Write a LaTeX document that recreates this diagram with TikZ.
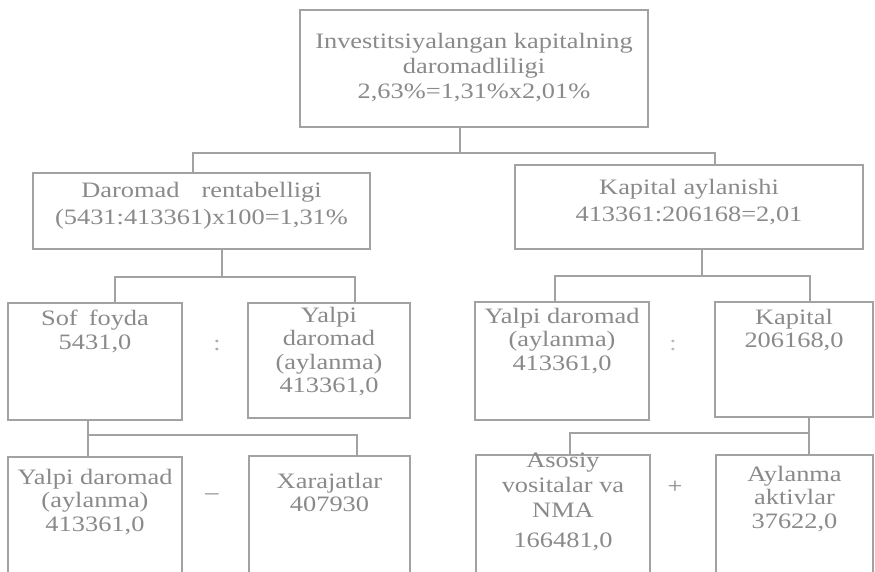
\documentclass[tikz,border=0pt]{standalone}
\usepackage{fontspec}
\setmainfont{Liberation Serif}[FakeStretch=1.2]
\definecolor{ink}{HTML}{8A8A8A}
\definecolor{rule}{HTML}{A2A2A2}
\tikzset{
  box/.style={draw=rule, line width=2.5pt, inner sep=0pt, outer sep=0pt,
    anchor=north west, fill=none},
  link/.style={draw=rule, line width=2.5pt},
  lbl/.style={text=ink, inner sep=0pt, align=center,
    font=\fontsize{22}{23.5}\selectfont},
  sign/.style={text=ink, inner sep=0pt, font=\fontsize{22}{23.5}\selectfont}
}
\begin{document}
\begin{tikzpicture}[x=1pt,y=-1pt]
\useasboundingbox (0,0) rectangle (875,571);
\fill[white] (0,0) rectangle (875,571);
\clip (0,0) rectangle (875,571);

% level 1
\node[box, minimum width=348pt, minimum height=117pt,
  label={[lbl, anchor=north, yshift=-23pt, font=\fontsize{22}{25}\selectfont]north:{Investitsiyalangan kapitalning\\daromadliligi\\2,63\%=1,31\%x2,01\%}}]
  (top) at (300,10) {};

% level 2
\node[box, minimum width=337pt, minimum height=76pt,
  label={[lbl, anchor=north, yshift=-9pt, font=\fontsize{22}{27}\selectfont]north:{Daromad\quad rentabelligi\\(5431:413361)x100=1,31\%}}]
  (dl) at (33,173) {};
\node[box, minimum width=348pt, minimum height=84pt,
  label={[lbl, anchor=north, yshift=-14pt, font=\fontsize{22}{27}\selectfont]north:{Kapital aylanishi\\413361:206168=2,01}}]
  (dr) at (515,165) {};

% level 3
\node[box, minimum width=174pt, minimum height=117pt,
  label={[lbl, anchor=north, yshift=-7pt]north:{Sof\enspace foyda\\5431,0}}]
  (sof) at (8,303) {};
\node[box, minimum width=162pt, minimum height=115pt,
  label={[lbl, anchor=north, yshift=-4pt]north:{Yalpi\\daromad\\(aylanma)\\413361,0}}]
  (yd1) at (248,303) {};
\node[box, minimum width=174pt, minimum height=118pt,
  label={[lbl, anchor=north, yshift=-6pt]north:{Yalpi daromad\\(aylanma)\\413361,0}}]
  (yd2) at (475,302) {};
\node[box, minimum width=158pt, minimum height=115pt,
  label={[lbl, anchor=north, yshift=-7pt]north:{Kapital\\206168,0}}]
  (kap) at (715,302) {};

% level 4
\node[box, minimum width=174pt, minimum height=140pt,
  label={[lbl, anchor=north, yshift=-12pt]north:{Yalpi daromad\\(aylanma)\\413361,0}}]
  (yd3) at (8,457) {};
\node[box, minimum width=161pt, minimum height=140pt,
  label={[lbl, anchor=north, yshift=-17pt]north:{Xarajatlar\\407930}}]
  (xar) at (249,456) {};
\node[box, minimum width=174pt, minimum height=140pt,
  label={[lbl, anchor=north, yshift=2pt, font=\fontsize{22}{25}\selectfont]north:{Asosiy\\vositalar va\\NMA\\[5pt]166481,0}}]
  (asos) at (476,455) {};
\node[box, minimum width=157pt, minimum height=140pt,
  label={[lbl, anchor=north, yshift=-11pt]north:{Aylanma\\aktivlar\\37622,0}}]
  (aylak) at (716,455) {};

% operation signs between sibling boxes
\node[sign, text=ink!70] (div1) at (217,345) {:};
\node[sign, text=ink!60] (div2) at (673,345) {:};
\node[sign] (minus) at (212,497) {--};
\node[sign] (plus) at (675,487) {+};

% junction points
\coordinate (t0) at (460,153);
\coordinate (hL) at (193,153);
\coordinate (hR) at (715,153);
\coordinate (l0) at (222,277);
\coordinate (lA) at (115,277);
\coordinate (lB) at (355,277);
\coordinate (r0) at (702,276);
\coordinate (rC) at (555,276);
\coordinate (rD) at (810,276);
\coordinate (m0) at (88,435);
\coordinate (mB) at (357,435);
\coordinate (n0) at (809,433);
\coordinate (nC) at (570,433);

% connectors
\draw[link] (top.south -| t0) -- (t0);
\draw[link] (dl.north -| hL) -- (hL) -- (hR) -- (dr.north -| hR);

\draw[link] (dl.south -| l0) -- (l0);
\draw[link] (sof.north -| lA) -- (lA) -- (lB) -- (yd1.north -| lB);
\draw[link] (dr.south -| r0) -- (r0);
\draw[link] (yd2.north -| rC) -- (rC) -- (rD) -- (kap.north -| rD);

\draw[link] (sof.south -| m0) -- (m0) -- (mB) -- (xar.north -| mB);
\draw[link] (m0) -- (yd3.north -| m0);
\draw[link] (kap.south -| n0) -- (n0) -- (aylak.north -| n0);
\draw[link] (n0) -- (nC) -- (asos.north -| nC);
\end{tikzpicture}
\end{document}
